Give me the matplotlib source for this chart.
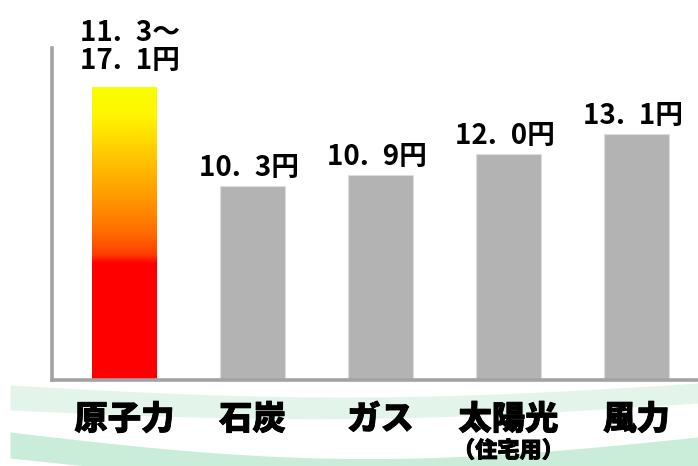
import numpy as np
import matplotlib
matplotlib.use("Agg")
import matplotlib.pyplot as plt
from matplotlib.colors import LinearSegmentedColormap
import matplotlib.transforms as mtrans
import matplotlib.patheffects as pe

plt.rcParams['font.family'] = ['Noto Sans CJK JP', 'DejaVu Sans']

# ---- data ----
categories = ["原子力", "石炭", "ガス", "太陽光", "風力"]
sub_labels = ["", "", "", "（住宅用）", ""]
bar_heights = [15.6, 10.3, 10.9, 12.0, 13.1]     # drawn heights
value_labels = ["11.\u20023～\n17.\u20021円", "10.\u20023円", "10.\u20029円",
                "12.\u20020円", "13.\u20021円"]
nuclear_red_top = 6.2                            # solid red part of the nuclear bar

W, H = 698, 466
fig = plt.figure(figsize=(W / 100, H / 100), dpi=100)

# ---- decorative background waves ----
bg = fig.add_axes([0, 0, 1, 1], zorder=0)
bg.set_xlim(0, W)
bg.set_ylim(H, 0)
bg.axis('off')
xs = np.linspace(10, W, 300)
t = (xs - 10) / (W - 10)
b1_top = 385 + 13 * np.sin(np.pi * t) - 2 * t
b1_bot = 410 + 12 * np.sin(np.pi * t) - 7 * t
b2_top = 432 + 24 * np.sin(np.pi * t) + 5 * t
b2_bot = np.minimum(458 + 20 * np.sin(np.pi * t) + 10 * t, H)
bg.fill_between(xs, b1_top, b1_bot, color='#E3F5EA', lw=0)
bg.fill_between(xs, b2_top, b2_bot, color='#CAEDDA', lw=0)

# ---- main axes ----
base_y, top_y, left_x = 380, 48, 52
ax = fig.add_axes([left_x / W, (H - base_y) / H, (W - left_x) / W, (base_y - top_y) / H], zorder=1)
ax.patch.set_alpha(0)
px_per_unit = 18.8
spacing = 128
first_center = 124.5
xlim = (-(first_center - left_x) / spacing, (W - first_center) / spacing)
ylim = (0, (base_y - top_y) / px_per_unit)
for s in ['top', 'right']:
    ax.spines[s].set_visible(False)
for s in ['left', 'bottom']:
    ax.spines[s].set_color('#A3A3A3')
    ax.spines[s].set_linewidth(2.6)
ax.set_xticks([])
ax.set_yticks([])

xpos = np.arange(len(categories))
bw = 65 / spacing
ax.bar(xpos[1:], bar_heights[1:], width=bw, color='#B3B3B3',
       edgecolor='#DDDDDD', linewidth=0.8, zorder=2)

# nuclear gradient bar
nrect = ax.bar(xpos[0], bar_heights[0], width=bw, color='none', lw=0, zorder=2)[0]
f = nuclear_red_top / bar_heights[0]
cmap = LinearSegmentedColormap.from_list('nuc', [
    (0.0, '#FF0000'), (f, '#FF0000'), (f + 0.03, '#FF4000'),
    (f + 0.10, '#FF6A00'), (0.62, '#FF9900'), (0.78, '#FFCC00'),
    (0.90, '#FFF500'), (1.0, '#F8FF00')])
grad = np.linspace(0, 1, 400).reshape(-1, 1)
im = ax.imshow(grad, cmap=cmap, origin='lower', aspect='auto',
               extent=(xpos[0] - bw / 2, xpos[0] + bw / 2, 0, bar_heights[0]), zorder=2)
im.set_clip_path(nrect)
ax.set_xlim(*xlim)
ax.set_ylim(*ylim)

# value labels
for i in range(1, len(categories)):
    ax.text(xpos[i] - 0.03, bar_heights[i] + 0.22, value_labels[i], ha='center', va='bottom',
            fontsize=20, fontweight='bold', color='black', zorder=3)
ax.text(xpos[0] - 0.345, bar_heights[0] + 0.6, value_labels[0], ha='left', va='bottom',
        fontsize=20, fontweight='bold', color='black', linespacing=1.0, clip_on=False, zorder=3)

# category labels
thick = [pe.withStroke(linewidth=0.6, foreground='black')]
trans = mtrans.blended_transform_factory(ax.transData, ax.transAxes)
for i, (c, s) in enumerate(zip(categories, sub_labels)):
    ax.text(xpos[i], (base_y - 419) / (base_y - top_y), c, transform=trans, ha='center',
            va='center', fontsize=24, fontweight='heavy', color='black', clip_on=False,
            path_effects=thick)
    if s:
        ax.text(xpos[i], (base_y - 451) / (base_y - top_y), s, transform=trans, ha='center',
                va='center', fontsize=16, fontweight='heavy', color='black', clip_on=False,
                path_effects=thick)

fig.savefig('out.png', dpi=100)
